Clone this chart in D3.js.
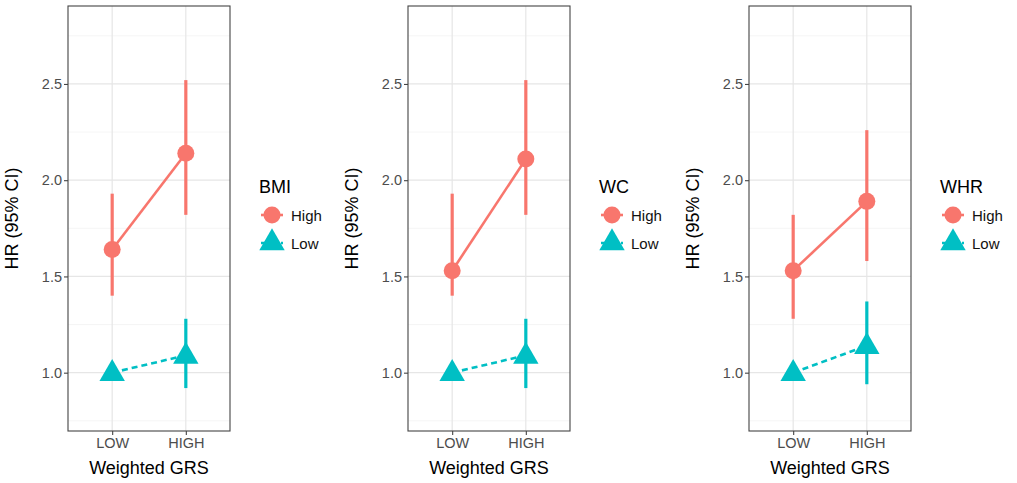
<!DOCTYPE html>
<html>
<head>
<meta charset="utf-8">
<script src="https://cdn.jsdelivr.net/npm/d3@7"></script>
<style>
  body { margin: 0; background: #fff; }
  text { font-family: "Liberation Sans", Arial, sans-serif; }
</style>
</head>
<body>
<svg id="chart" width="1017" height="483"></svg>
<script>
// categorias e valores
const categories = ["LOW", "HIGH"];
const panelNames = ["BMI", "WC", "WHR"];
const groups = ["High", "Low"];

const highEst = [[1.64, 2.14], [1.53, 2.11], [1.53, 1.89]];
const highLo  = [[1.40, 1.82], [1.40, 1.82], [1.28, 1.58]];
const highHi  = [[1.93, 2.52], [1.93, 2.52], [1.82, 2.26]];

const lowEst = [[1.00, 1.09], [1.00, 1.09], [1.00, 1.14]];
const lowLo  = [[1.00, 0.92], [1.00, 0.92], [1.00, 0.94]];
const lowHi  = [[1.00, 1.28], [1.00, 1.28], [1.00, 1.37]];

const yTicks = [1.0, 1.5, 2.0, 2.5];
const yMinor = [0.75, 1.25, 1.75, 2.25, 2.75];

const colors = { High: "#F8766D", Low: "#00BFC4" };

const svg = d3.select("#chart");
const panelX = [68, 408, 749];
const pw = 162, pTop = 6, pBottom = 431;

const y = d3.scaleLinear().domain([0.697, 2.905]).range([pBottom, pTop]);

panelNames.forEach((nome, i) => {
    const g = svg.append("g").attr("transform", `translate(${panelX[i]},0)`);
    const x = d3.scalePoint().domain(categories).range([0, pw]).padding(0.6);

    // grade
    g.selectAll(".minor").data(yMinor).enter().append("line")
        .attr("x1", 0).attr("x2", pw)
        .attr("y1", d => y(d)).attr("y2", d => y(d))
        .attr("stroke", "#f2f2f2").attr("stroke-width", 0.8);
    g.selectAll(".major").data(yTicks).enter().append("line")
        .attr("x1", 0).attr("x2", pw)
        .attr("y1", d => y(d)).attr("y2", d => y(d))
        .attr("stroke", "#e6e6e6").attr("stroke-width", 1.2);
    g.selectAll(".vmajor").data(categories).enter().append("line")
        .attr("y1", pTop).attr("y2", pBottom)
        .attr("x1", d => x(d)).attr("x2", d => x(d))
        .attr("stroke", "#e6e6e6").attr("stroke-width", 1.2);

    // eixos
    const yAxis = g.append("g").call(d3.axisLeft(y).tickValues(yTicks).tickFormat(d3.format(".1f")).tickSize(4));
    const xAxis = g.append("g").attr("transform", `translate(0,${pBottom})`)
        .call(d3.axisBottom(x).tickSize(4));
    [yAxis, xAxis].forEach(a => {
        a.select(".domain").remove();
        a.selectAll(".tick line").attr("stroke", "#444").attr("stroke-width", 1.1);
        a.selectAll(".tick text").attr("fill", "#4d4d4d").attr("font-size", 14.5)
            .attr("font-family", "Liberation Sans, Arial, sans-serif");
    });
    yAxis.selectAll(".tick text").attr("x", -6);
    xAxis.selectAll(".tick text").attr("y", 7);

    // linhas entre pontos
    const linha = d3.line().x((d, j) => x(categories[j])).y(d => y(d));
    g.append("path").datum(highEst[i]).attr("d", linha)
        .attr("fill", "none").attr("stroke", colors.High).attr("stroke-width", 2.6);
    g.append("path").datum(lowEst[i]).attr("d", linha)
        .attr("fill", "none").attr("stroke", colors.Low).attr("stroke-width", 2.6)
        .attr("stroke-dasharray", "6,4");

    // barras de erro
    const barras = (lo, hi, cor) => {
        g.selectAll(null).data(categories).enter().append("line")
            .attr("x1", d => x(d)).attr("x2", d => x(d))
            .attr("y1", (d, j) => y(lo[j])).attr("y2", (d, j) => y(hi[j]))
            .attr("stroke", cor).attr("stroke-width", 3.2);
    };
    barras(highLo[i], highHi[i], colors.High);
    barras(lowLo[i], lowHi[i], colors.Low);

    // pontos
    g.selectAll(null).data(categories).enter().append("circle")
        .attr("cx", d => x(d)).attr("cy", (d, j) => y(highEst[i][j]))
        .attr("r", 8.5).attr("fill", colors.High);
    const tri = d3.symbol().type(d3.symbolTriangle).size(280);
    g.selectAll(null).data(categories).enter().append("path")
        .attr("d", tri)
        .attr("transform", (d, j) => `translate(${x(d)},${y(lowEst[i][j]) + 1})`)
        .attr("fill", colors.Low);

    // borda do painel
    g.append("rect").attr("x", 0).attr("y", pTop).attr("width", pw).attr("height", pBottom - pTop)
        .attr("fill", "none").attr("stroke", "#444").attr("stroke-width", 1.1);

    // títulos dos eixos
    g.append("text").attr("transform", `translate(-50,${(pTop + pBottom) / 2}) rotate(-90)`)
        .attr("text-anchor", "middle").attr("font-size", 18).attr("fill", "#000")
        .text("HR (95% CI)");
    g.append("text").attr("x", pw / 2).attr("y", 474)
        .attr("text-anchor", "middle").attr("font-size", 18).attr("fill", "#000")
        .text("Weighted GRS");

    // legenda
    const lg = g.append("g").attr("transform", `translate(${pw + 29},0)`);
    lg.append("text").attr("x", 0).attr("y", 193).attr("font-size", 18).attr("fill", "#000").text(nome);
    groups.forEach((gr, k) => {
        const cy = 215 + k * 28;
        const cx = 13;
        lg.append("line").attr("x1", cx - 11).attr("x2", cx + 11).attr("y1", cy).attr("y2", cy)
            .attr("stroke", colors[gr]).attr("stroke-width", 2.6)
            .attr("stroke-dasharray", gr === "Low" ? "6,4" : null);
        if (gr === "High") {
            lg.append("circle").attr("cx", cx).attr("cy", cy).attr("r", 8.5).attr("fill", colors[gr]);
        } else {
            lg.append("path").attr("d", tri).attr("transform", `translate(${cx},${cy})`).attr("fill", colors[gr]);
        }
        lg.append("text").attr("x", cx + 19).attr("y", cy + 5.5).attr("font-size", 15).attr("fill", "#111").text(gr);
    });
});
</script>
</body>
</html>
